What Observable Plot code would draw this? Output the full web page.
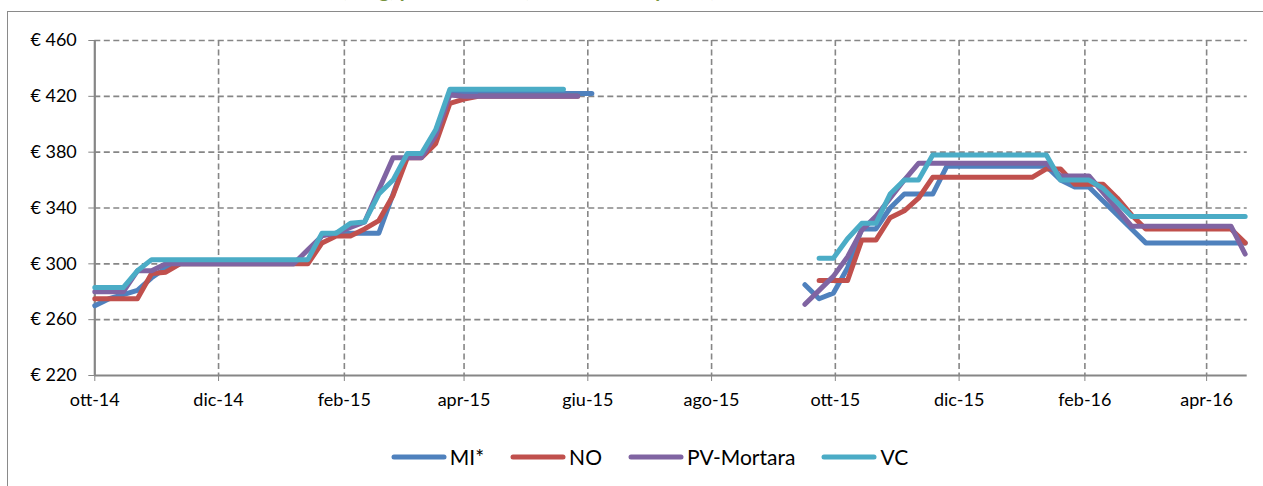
<!DOCTYPE html>
<html>
<head>
<meta charset="utf-8">
<script src="https://cdn.jsdelivr.net/npm/d3@7"></script>
<script src="https://cdn.jsdelivr.net/npm/@observablehq/plot@0.6"></script>
<style>
  body { margin: 0; background: #fff; overflow: hidden; font-family: Lato, sans-serif; }
  #wrap { position: relative; width: 1263px; height: 486px; overflow: hidden; }
  #title { position: absolute; left: 232px; top: -23px; font: bold 20px Lato, sans-serif; color: #77933c; white-space: nowrap; }
  #frame { position: absolute; left: 7px; top: 11px; width: 1400px; height: 600px; border-left: 1.5px solid #8a8a8a; border-top: 1.5px solid #8a8a8a; }
  #chart { position: absolute; left: 0; top: 0; }
  #legend { position: absolute; top: 444px; left: 18px; width: 1263px; display: flex; justify-content: center; gap: 26px; font-size: 21px; color: #000; }
  #legend .item { display: flex; align-items: center; }
  #legend svg { margin-right: 3px; }
</style>
</head>
<body>
<div id="wrap">
  <div id="title">Risone Loto (€/kg) prezzo medio (Borse merci e piazze)</div>
  <div id="frame"></div>
  <div id="chart"></div>
  <div id="legend"></div>
</div>
<script>
// weekly quotations, season 2014/15 and season 2015/16
const dates1 = ["2014-10-01","2014-10-08","2014-10-15","2014-10-22","2014-10-29","2014-11-05","2014-11-12","2014-11-19","2014-11-26","2014-12-03","2014-12-10","2014-12-17","2014-12-24","2014-12-31","2015-01-07","2015-01-14","2015-01-21","2015-01-28","2015-02-04","2015-02-11","2015-02-18","2015-02-25","2015-03-04","2015-03-11","2015-03-18","2015-03-25","2015-04-01","2015-04-08","2015-04-15","2015-04-22","2015-04-29","2015-05-06","2015-05-13","2015-05-20","2015-05-27","2015-06-03"];
const dates2 = ["2015-09-16","2015-09-23","2015-09-30","2015-10-07","2015-10-14","2015-10-21","2015-10-28","2015-11-04","2015-11-11","2015-11-18","2015-11-25","2015-12-02","2015-12-09","2015-12-16","2015-12-23","2015-12-30","2016-01-06","2016-01-13","2016-01-20","2016-01-27","2016-02-03","2016-02-10","2016-02-17","2016-02-24","2016-03-02","2016-03-09","2016-03-16","2016-03-23","2016-03-30","2016-04-06","2016-04-13","2016-04-20"];

const seriesNames = ["MI*", "NO", "PV-Mortara", "VC"];
const seriesColors = ["#4f81bd", "#c0504d", "#8064a2", "#4bacc6"];

const mi1 = [270,275,278,281,290,297,300,300,300,300,300,300,300,300,300,302,321,322,322,322,322,350,378,378,394,422,422,422,422,422,422,422,422,422,422,422];
const no1 = [275,275,275,275,293,294,300,300,300,300,300,300,300,300,300,300,315,320,320,325,331,349,376,376,386,415,418,420,420,420,420,420,420,420,420,null];
const pv1 = [280,280,280,295,295,300,300,300,300,300,300,300,300,300,300,310,320,322,326,330,353,376,376,376,392,421,420,420,420,420,420,420,420,420,420,null];
const vc1 = [283,283,283,295,303,303,303,303,303,303,303,303,303,303,303,303,322,322,329,330,350,360,379,379,396,425,425,425,425,425,425,425,425,425,null,null];

const mi2 = [285,275,279,297,325,325,340,350,350,350,370,370,370,370,370,370,370,370,360,355,355,345,335,325,315,315,315,315,315,315,315,315];
const no2 = [null,288,288,288,317,317,333,338,347,362,362,362,362,362,362,362,362,368,368,357,357,357,347,335,325,325,325,325,325,325,325,315];
const pv2 = [271,281,291,305,324,334,347,360,372,372,372,372,372,372,372,372,372,372,363,363,363,351,339,327,327,327,327,327,327,327,327,307];
const vc2 = [null,304,304,318,329,329,350,360,360,378,378,378,378,378,378,378,378,378,360,360,360,354,344,334,334,334,334,334,334,334,334,334];

const season1 = [mi1, no1, pv1, vc1];
const season2 = [mi2, no2, pv2, vc2];

const xTicks = ["2014-10-01","2014-12-01","2015-02-01","2015-04-01","2015-06-01","2015-08-01","2015-10-01","2015-12-01","2016-02-01","2016-04-01"];
const yTicks = [220, 260, 300, 340, 380, 420, 460];
const monthNames = ["gen","feb","mar","apr","mag","giu","lug","ago","set","ott","nov","dic"];

const parse = d3.utcParse("%Y-%m-%d");
const xTickDates = xTicks.map(parse);

function rowsFor(k) {
  let rows = [];
  dates1.forEach((d, i) => rows.push({date: parse(d), value: season1[k][i], season: 1}));
  dates2.forEach((d, i) => rows.push({date: parse(d), value: season2[k][i], season: 2}));
  return rows.filter(r => r.value != null);
}

const gridStyle = {stroke: "#868686", strokeOpacity: 1, strokeWidth: 1.6, strokeDasharray: "6,3.5"};

let marks = [
  Plot.gridY(yTicks.slice(1), gridStyle),
  Plot.gridX(xTickDates.slice(1), gridStyle),
  Plot.ruleY([220], {stroke: "#868686", strokeWidth: 2.2}),
  Plot.ruleX([xTickDates[0]], {stroke: "#868686", strokeWidth: 2.2}),
  Plot.axisY(yTicks, {
    tickSize: 6, tickPadding: 12, stroke: "#868686", fill: "#000",
    tickFormat: d => "€ " + d, label: null
  }),
  Plot.axisX(xTickDates, {
    tickSize: 6, tickPadding: 12, stroke: "#868686", fill: "#000",
    tickFormat: d => monthNames[d.getUTCMonth()] + "-" + String(d.getUTCFullYear()).slice(2),
    label: null
  })
];

seriesNames.forEach((name, k) => {
  marks.push(Plot.line(rowsFor(k), {
    x: "date", y: "value", z: "season",
    stroke: seriesColors[k], strokeWidth: 5,
    strokeLinejoin: "round", strokeLinecap: "round"
  }));
});

let plot = Plot.plot({
  width: 1263,
  height: 420,
  marginLeft: 94.3,
  marginRight: 16.3,
  marginTop: 40,
  marginBottom: 45,
  x: {type: "utc", domain: [parse("2014-10-01"), parse("2016-04-21")]},
  y: {domain: [220, 460]},
  style: {fontFamily: "Lato, sans-serif", fontSize: "18px", background: "transparent", overflow: "visible"},
  marks: marks
});

document.getElementById("chart").append(plot);

// legend below the chart
let legend = d3.select("#legend");
seriesNames.forEach((name, k) => {
  let item = legend.append("div").attr("class", "item");
  let sw = item.append("svg").attr("width", 56).attr("height", 12);
  sw.append("line")
    .attr("x1", 3).attr("x2", 53).attr("y1", 6).attr("y2", 6)
    .attr("stroke", seriesColors[k]).attr("stroke-width", 5)
    .attr("stroke-linecap", "round");
  item.append("span").text(name);
});
</script>
</body>
</html>
